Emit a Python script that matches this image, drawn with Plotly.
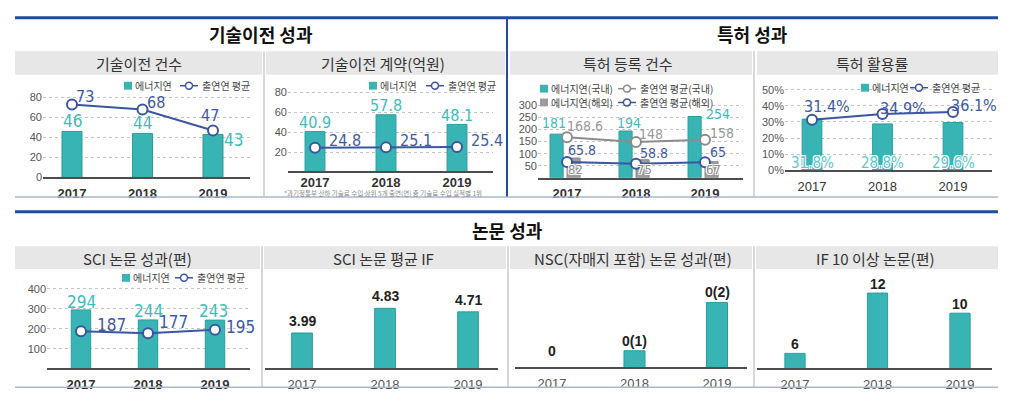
import plotly.graph_objects as go

W, H = 1016, 405

# ---------------- data ----------------
years = ["2017", "2018", "2019"]
tech_count_kier = [46, 44, 43]
tech_count_avg = [73, 68, 47]
tech_contract_kier = [40.9, 57.8, 48.1]
tech_contract_avg = [24.8, 25.1, 25.4]
patent_dom_kier = [181, 194, 254]
patent_for_kier = [82, 75, 67]
patent_dom_avg = [168.6, 148, 158]
patent_for_avg = [65.8, 58.8, 65]
patent_use_kier = [31.8, 28.8, 29.6]
patent_use_avg = [31.4, 34.9, 36.1]
sci_kier = [294, 244, 243]
sci_avg = [187, 177, 195]
sci_if = [3.99, 4.83, 4.71]
nsc_main = [0, 0, 0]
nsc_sister = [0, 1, 2]
if10_papers = [6, 12, 10]

ticks_count = [0, 20, 40, 60, 80]
ticks_patent = [50, 100, 150, 200, 250, 300]
ticks_rate = [0, 10, 20, 30, 40, 50]
ticks_sci = [100, 200, 300, 400]

section_titles = ["기술이전 성과", "특허 성과", "논문 성과"]
chart_titles = ["기술이전 건수", "기술이전 계약(억원)", "특허 등록 건수", "특허 활용률",
                "SCI 논문 성과(편)", "SCI 논문 평균 IF", "NSC(자매지 포함) 논문 성과(편)", "IF 10 이상 논문(편)"]
name_kier = "에너지연"
name_avg = "출연연 평균"
names_patent = ["에너지연(국내)", "출연연 평균(국내)", "에너지연(해외)", "출연연 평균(해외)"]
footnote = "*과기정통부 산하 기술료 수입 상위 5개 출연(연) 중 기술료 수입 실적별 1위"

# ---------------- style ----------------
FONT = "Liberation Sans, Noto Sans CJK KR, sans-serif"
NARROW = "Liberation Sans Narrow, DejaVu Sans Condensed, Liberation Sans, sans-serif"
KFONT = "Noto Sans CJK KR, sans-serif"
TEAL = "#38b4b5"
TEAL_EDGE = "#2a9c9e"
TEAL_TXT = "#3dbdbd"
BLUE = "#3b55a3"
BLUE_TXT = "#4058a8"
GRAY_BAR = "#9c9c9c"
GRAY_LINE = "#8c8c8c"
GRAY_TXT = "#999999"
NAVY = "#1f4f9c"
OUTLINE = "1px 1px 0 #fff, -1px -1px 0 #fff, 1px -1px 0 #fff, -1px 1px 0 #fff"

fig = go.Figure()
layout = {}
annotations = []
shapes = []


def fmt(v):
    return f"{v:g}"


def add_axes(n, xdom, cats, ydom, ycal, tickvals=None, suffix="", xbold=True, xcolor="#333", standoff=3):
    l, r = xdom
    p0, p2 = cats
    unit = (p2 - p0) / 2
    r0 = -(p0 - l) / unit
    r1 = r0 + (r - l) / unit
    top, bot = ydom
    (va, pa), (vb, pb) = ycal
    s = (pa - pb) / (vb - va)
    vbot = va - (bot - pa) / s
    vtop = va + (pa - top) / s
    k = "" if n == 1 else str(n)
    layout[f"xaxis{k}"] = dict(
        domain=[l / W, r / W], range=[r0, r1], type="category", anchor=f"y{k}",
        showline=True, linecolor="#4d4d4d", linewidth=2, showgrid=False, zeroline=False,
        ticks="", fixedrange=True, ticklabelstandoff=standoff,
        tickfont=dict(family=FONT, size=13, color=xcolor, weight="bold" if xbold else "normal"))
    ya = dict(domain=[1 - bot / H, 1 - top / H], range=[vbot, vtop], anchor=f"x{k}",
              showline=False, zeroline=False, fixedrange=True)
    if tickvals is not None:
        ya.update(tickmode="array", tickvals=tickvals, ticktext=[f"{t}{suffix}" for t in tickvals],
                  showgrid=True, gridcolor="#c4c4c4", griddash="dot", gridwidth=1, ticks="",
                  tickfont=dict(family=FONT, size=11, color="#555"))
    else:
        ya.update(showticklabels=False, showgrid=False)
    layout[f"yaxis{k}"] = ya
    return f"x{k}", f"y{k}", vbot


def bars(xr, yr, vals, color, edge, width, offset=None):
    fig.add_trace(go.Bar(x=years, y=vals, xaxis=xr, yaxis=yr, width=width, offset=offset,
                         marker=dict(color=color, line=dict(color=edge, width=1)),
                         showlegend=False, hoverinfo="skip"))


def line(xr, yr, vals, color):
    fig.add_trace(go.Scatter(x=years, y=vals, xaxis=xr, yaxis=yr, mode="lines+markers",
                             line=dict(color=color, width=2),
                             marker=dict(size=10, color="white", line=dict(color=color, width=2)),
                             cliponaxis=False, showlegend=False, hoverinfo="skip"))


def labels(xr, yr, ypos, texts, shifts, color, size, family=NARROW, bold=False, shadow=None):
    # category axes: annotation x is the category index
    for i, (v, t, (dx, dy)) in enumerate(zip(ypos, texts, shifts)):
        f = dict(family=family, size=size, color=color, weight="bold" if bold else "normal")
        if shadow:
            f["shadow"] = shadow
        if v is None:
            yref, yy = f"{yr} domain", 0
        else:
            yref, yy = yr, v
        annotations.append(dict(x=i, y=yy, xref=xr, yref=yref, text=t, showarrow=False,
                                xanchor="center", yanchor="middle", xshift=dx, yshift=dy, font=f))


def hline(x0, x1, y, color, w):
    shapes.append(dict(type="line", xref="paper", yref="paper", x0=x0 / W, x1=x1 / W,
                       y0=1 - y / H, y1=1 - y / H, line=dict(color=color, width=w)))


def vline(x, y0, y1, color, w):
    shapes.append(dict(type="line", xref="paper", yref="paper", x0=x / W, x1=x / W,
                       y0=1 - y0 / H, y1=1 - y1 / H, line=dict(color=color, width=w)))


def rect(x0, x1, y0, y1, color):
    shapes.append(dict(type="rect", xref="paper", yref="paper", x0=x0 / W, x1=x1 / W,
                       y0=1 - y1 / H, y1=1 - y0 / H, fillcolor=color, line=dict(width=0), layer="below"))


def text(x, y, s, size, color, bold=False, family=KFONT, anchor="center"):
    annotations.append(dict(x=x / W, y=1 - y / H, xref="paper", yref="paper", text=s, showarrow=False,
                            xanchor=anchor, yanchor="middle",
                            font=dict(family=family, size=size, color=color,
                                      weight="bold" if bold else "normal")))


def legend_box(xp, yp, color, s):
    shapes.append(dict(type="rect", xref="paper", yref="paper", x0=xp / W, x1=(xp + 8) / W,
                       y0=1 - (yp + 4) / H, y1=1 - (yp - 4) / H, fillcolor=color, line=dict(width=0)))
    text(xp + 9, yp, s, 10, "#444", anchor="left")


def legend_line(xp, yp, color, s):
    shapes.append(dict(type="line", xref="paper", yref="paper", x0=xp / W, x1=(xp + 18) / W,
                       y0=1 - yp / H, y1=1 - yp / H, line=dict(color=color, width=1.5)))
    shapes.append(dict(type="circle", xref="paper", yref="paper", x0=(xp + 5.5) / W, x1=(xp + 12.5) / W,
                       y0=1 - (yp + 3.5) / H, y1=1 - (yp - 3.5) / H, fillcolor="white",
                       line=dict(color=color, width=1.5)))
    text(xp + 20, yp, s, 10, "#444", anchor="left")


# ---------------- frame / decorations ----------------
hline(15, 998, 18, NAVY, 3)
hline(15, 998, 215, NAVY, 3)
vline(507, 18, 200, NAVY, 2)
for a, b in [(15, 262), (266, 505), (510, 752), (757, 998)]:
    rect(a, b, 52, 76, "#e7e7e7")
for a, b in [(15, 260), (264, 506), (510, 752), (756, 998)]:
    rect(a, b, 250, 273, "#e7e7e7")
vline(264, 52, 200, "#b0b0b0", 1)
vline(754, 52, 200, "#b0b0b0", 1)
vline(262, 250, 393, "#b0b0b0", 1)
vline(508, 250, 393, "#b0b0b0", 1)
vline(754, 250, 393, "#b0b0b0", 1)
hline(15, 998, 200, "#a9b8cc", 1.5)
hline(15, 998, 393, "#a9b8cc", 1.5)

text(261, 35, section_titles[0], 18, "#111", bold=True)
text(752, 35, section_titles[1], 18, "#111", bold=True)
text(507, 233, section_titles[2], 18, "#111", bold=True)
for (x, y), s in zip([(139, 64), (383, 64), (628, 64), (872, 64),
                      (137, 262), (383, 262), (633, 262), (875, 262)], chart_titles):
    text(x, y, s, 15, "#333")
text(383, 196, footnote, 6.5, "#888")

# ---------------- chart 1: 기술이전 건수 ----------------
x1, y1, _ = add_axes(1, (43, 250), (72, 213), (80, 180), ((80, 99), (0, 180)), ticks_count)
bars(x1, y1, tech_count_kier, TEAL, TEAL_EDGE, 0.284)
line(x1, y1, tech_count_avg, BLUE)
labels(x1, y1, tech_count_kier, [fmt(v) for v in tech_count_kier], [(0, 10), (0, 10), (20, -6)], TEAL_TXT, 17)
labels(x1, y1, tech_count_avg, [fmt(v) for v in tech_count_avg], [(13, 8), (13, 7), (-3, 15)], BLUE_TXT, 16)
legend_box(124, 87, TEAL, name_kier)
legend_line(180, 87, BLUE, name_avg)

# ---------------- chart 2: 기술이전 계약 ----------------
x2, y2, _ = add_axes(2, (288, 493), (315, 457), (80, 174), ((80, 94), (0, 175)), ticks_count, standoff=-2)
bars(x2, y2, tech_contract_kier, TEAL, TEAL_EDGE, 0.28)
line(x2, y2, tech_contract_avg, BLUE)
labels(x2, y2, tech_contract_kier, [fmt(v) for v in tech_contract_kier], [(0, 9)] * 3, TEAL_TXT, 16)
labels(x2, y2, tech_contract_avg, [fmt(v) for v in tech_contract_avg], [(30, 7)] * 3, BLUE_TXT, 16)
legend_box(369, 87, TEAL, name_kier)
legend_line(426, 87, BLUE, name_avg)

# ---------------- chart 3: 특허 등록 건수 ----------------
x3, y3, _ = add_axes(3, (538, 743), (567, 705), (95, 180.5), ((300, 107), (0, 180.5)), ticks_patent)
bars(x3, y3, patent_dom_kier, TEAL, TEAL_EDGE, 0.19, offset=-0.246)
bars(x3, y3, patent_for_kier, GRAY_BAR, "#8a8a8a", 0.19, offset=0.0)
line(x3, y3, patent_dom_avg, GRAY_LINE)
line(x3, y3, patent_for_avg, BLUE)
labels(x3, y3, patent_dom_kier, [fmt(v) for v in patent_dom_kier], [(-13, 11), (-7, 8), (13, 3)], TEAL_TXT, 14)
labels(x3, y3, patent_dom_avg, [fmt(v) for v in patent_dom_avg], [(18, 11), (15, 8), (17, 7)], GRAY_TXT, 14)
labels(x3, y3, patent_for_avg, [fmt(v) for v in patent_for_avg], [(15, 12), (18, 11), (13, 10)], BLUE_TXT, 14)
labels(x3, y3, [None] * 3, [fmt(v) for v in patent_for_kier], [(8, 8)] * 3, "#8f8f8f", 13, shadow=OUTLINE)
legend_box(540, 90, TEAL, names_patent[0])
legend_line(618, 90, GRAY_LINE, names_patent[1])
legend_box(540, 104, GRAY_BAR, names_patent[2])
legend_line(618, 104, BLUE, names_patent[3])

# ---------------- chart 4: 특허 활용률 ----------------
x4, y4, _ = add_axes(4, (785, 992), (812, 953), (80, 173), ((50, 91), (0, 173)), ticks_rate, suffix="%", xbold=False)
bars(x4, y4, patent_use_kier, TEAL, TEAL_EDGE, 0.28)
line(x4, y4, patent_use_avg, BLUE)
labels(x4, y4, patent_use_avg, [f"{v:g}%" for v in patent_use_avg], [(15, 13), (20, 6), (21, 7)], BLUE_TXT, 16)
labels(x4, y4, [None] * 3, [f"{v:g}%" for v in patent_use_kier], [(0, 7)] * 3, "#5cc8c8", 15, shadow=OUTLINE)
legend_box(861, 89, TEAL, name_kier)
legend_line(910, 89, BLUE, name_avg)

# ---------------- chart 5: SCI 논문 성과 ----------------
x5, y5, _ = add_axes(5, (47, 250), (81, 215), (285, 374), ((400, 293), (100, 354)), ticks_sci)
bars(x5, y5, sci_kier, TEAL, TEAL_EDGE, 0.29)
line(x5, y5, sci_avg, BLUE)
labels(x5, y5, sci_kier, [fmt(v) for v in sci_kier], [(0, 8), (0, 9), (-2, 9)], TEAL_TXT, 17)
labels(x5, y5, sci_avg, [fmt(v) for v in sci_avg], [(30, 6), (25, 11), (25, 3)], BLUE_TXT, 17)
legend_box(122, 282, TEAL, name_kier)
legend_line(175, 282, BLUE, name_avg)

# ---------------- chart 6: SCI 논문 평균 IF ----------------
x6, y6, _ = add_axes(6, (265, 498), (302, 468), (280, 374), ((2.782, 374), (3.782, 344.2)), xbold=False, xcolor="#555")
bars(x6, y6, sci_if, TEAL, TEAL_EDGE, 0.25)
labels(x6, y6, sci_if, [fmt(v) for v in sci_if], [(0, 12)] * 3, "#222", 14, family=FONT, bold=True)

# ---------------- chart 7: NSC 논문 ----------------
x7, y7, lo7 = add_axes(7, (515, 747), (552, 717), (280, 373), ((0.653, 373), (1.653, 324)), xbold=False, xcolor="#555")
bars(x7, y7, nsc_sister, TEAL, TEAL_EDGE, 0.255)
nsc_text = [f"{m}" if s == 0 else f"{m}({s})" for m, s in zip(nsc_main, nsc_sister)]
nsc_pos = [v if v > lo7 else None for v in nsc_sister]
nsc_shift = [(0, 10) if v > lo7 else (0, 16) for v in nsc_sister]
labels(x7, y7, nsc_pos, nsc_text, nsc_shift, "#222", 14, family=FONT, bold=True)

# ---------------- chart 8: IF 10 이상 논문 ----------------
x8, y8, _ = add_axes(8, (757, 992), (795, 960), (280, 374), ((4.5, 374), (5.5, 363.8)), xbold=False, xcolor="#555")
bars(x8, y8, if10_papers, TEAL, TEAL_EDGE, 0.245)
labels(x8, y8, if10_papers, [fmt(v) for v in if10_papers], [(0, 9)] * 3, "#222", 14, family=FONT, bold=True)

fig.update_layout(
    width=W, height=H, autosize=False,
    margin=dict(l=0, r=0, t=0, b=0),
    paper_bgcolor="white", plot_bgcolor="rgba(0,0,0,0)",
    showlegend=False, barmode="group",
    annotations=annotations, shapes=shapes,
    font=dict(family=FONT),
    **layout,
)

fig.write_html("out.html", config={"displayModeBar": False},
               post_script="document.body.style.margin='0';")
